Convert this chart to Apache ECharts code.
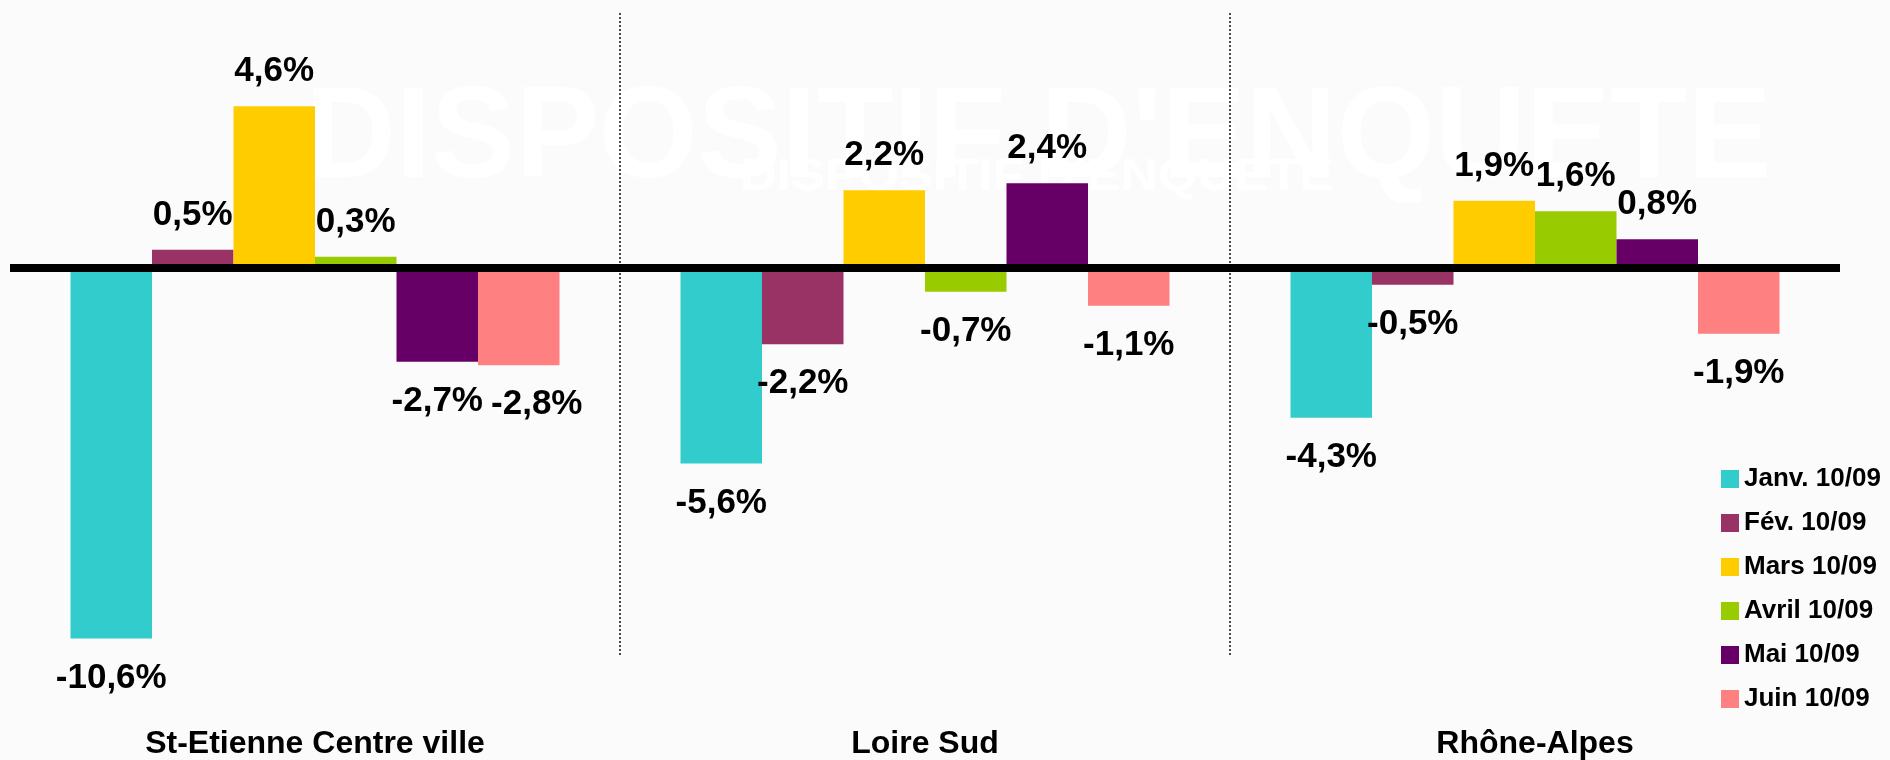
<!DOCTYPE html>
<html>
<head>
<meta charset="utf-8">
<script src="https://cdn.jsdelivr.net/npm/echarts@6/dist/echarts.min.js"></script>
<style>
  html, body { margin: 0; padding: 0; background: #fbfbfb; }
  #chart { width: 1890px; height: 760px; }
</style>
</head>
<body>
<div id="chart"></div>
<script>
var categories = ['St-Etienne Centre ville', 'Loire Sud', 'Rhône-Alpes'];
var seriesNames = ['Janv. 10/09', 'Fév. 10/09', 'Mars 10/09', 'Avril 10/09', 'Mai 10/09', 'Juin 10/09'];
var janv = [-10.6, -5.6, -4.3];
var fev = [0.5, -2.2, -0.5];
var mars = [4.6, 2.2, 1.9];
var avril = [0.3, -0.7, 1.6];
var mai = [-2.7, 2.4, 0.8];
var juin = [-2.8, -1.1, -1.9];
var colors = ['#33CCCC', '#993366', '#FFCC00', '#99CC00', '#660066', '#FF8080'];

var FONT = 'Liberation Sans';

var chart = echarts.init(document.getElementById('chart'));

function toData(values, seriesIdx) {
    return values.map(function (v, j) {
        var lbl = {
            position: v < 0 ? 'bottom' : 'top',
            distance: v < 0 ? 22 : 17
        };
        // the -2,8% label sits a bit to the right in the original, next to -2,7%
        if (seriesIdx === 5 && j === 0) lbl.offset = [18, 0];
        return { value: v, label: lbl };
    });
}

var allValues = [janv, fev, mars, avril, mai, juin];
var series = allValues.map(function (vals, i) {
    return {
        name: seriesNames[i],
        type: 'bar',
        xAxisIndex: 0,
        barWidth: 81.5,
        barGap: '0%',
        itemStyle: { color: colors[i] },
        label: {
            show: true,
            color: '#000',
            fontFamily: FONT,
            fontWeight: 'bold',
            fontSize: 35,
            formatter: function (p) {
                return p.value.toFixed(1).replace('.', ',') + '%';
            }
        },
        data: toData(vals, i)
    };
});

option = {
    backgroundColor: '#fbfbfb',
    animation: false,
    graphic: [
        {
            type: 'text',
            z: -10,
            x: 305,
            y: 76,
            scaleX: 0.97,
            style: {
                text: "DISPOSITIF D'ENQUETE",
                font: 'bold 130px "Liberation Sans"',
                fill: '#ffffff'
            }
        },
        {
            type: 'text',
            z: -10,
            x: 740,
            y: 156,
            scaleX: 1.16,
            style: {
                text: "DISPOSITIF D'ENQUETE",
                font: 'bold 44px "Liberation Sans"',
                fill: '#ffffff'
            }
        }
    ],
    grid: { left: 10, right: 50, top: 13, bottom: 97, containLabel: false },
    legend: {
        orient: 'vertical',
        left: 1716,
        top: 461,
        itemWidth: 18,
        itemHeight: 18,
        itemGap: 18,
        icon: 'rect',
        textStyle: { fontFamily: FONT, fontWeight: 'bold', fontSize: 26, color: '#000' },
        data: seriesNames
    },
    xAxis: [
        {
            type: 'category',
            position: 'bottom',
            data: categories,
            z: 5,
            axisLine: { show: true, onZero: true, lineStyle: { color: '#000', width: 8, cap: 'butt' } },
            axisTick: { show: false },
            axisLabel: { show: false },
            splitLine: {
                show: true,
                showMinLine: false,
                showMaxLine: false,
                lineStyle: { color: '#111', width: 1.5, type: [2, 2] }
            }
        },
        {
            type: 'category',
            position: 'bottom',
            data: categories,
            axisLine: { show: false, onZero: false },
            axisTick: { show: false },
            splitLine: { show: false },
            axisLabel: {
                margin: 72,
                color: '#000',
                fontFamily: FONT,
                fontWeight: 'bold',
                fontSize: 32
            }
        }
    ],
    yAxis: {
        type: 'value',
        min: -11.1,
        max: 7.26,
        show: false,
        splitLine: { show: false }
    },
    series: series
};

chart.setOption(option);
</script>
</body>
</html>
